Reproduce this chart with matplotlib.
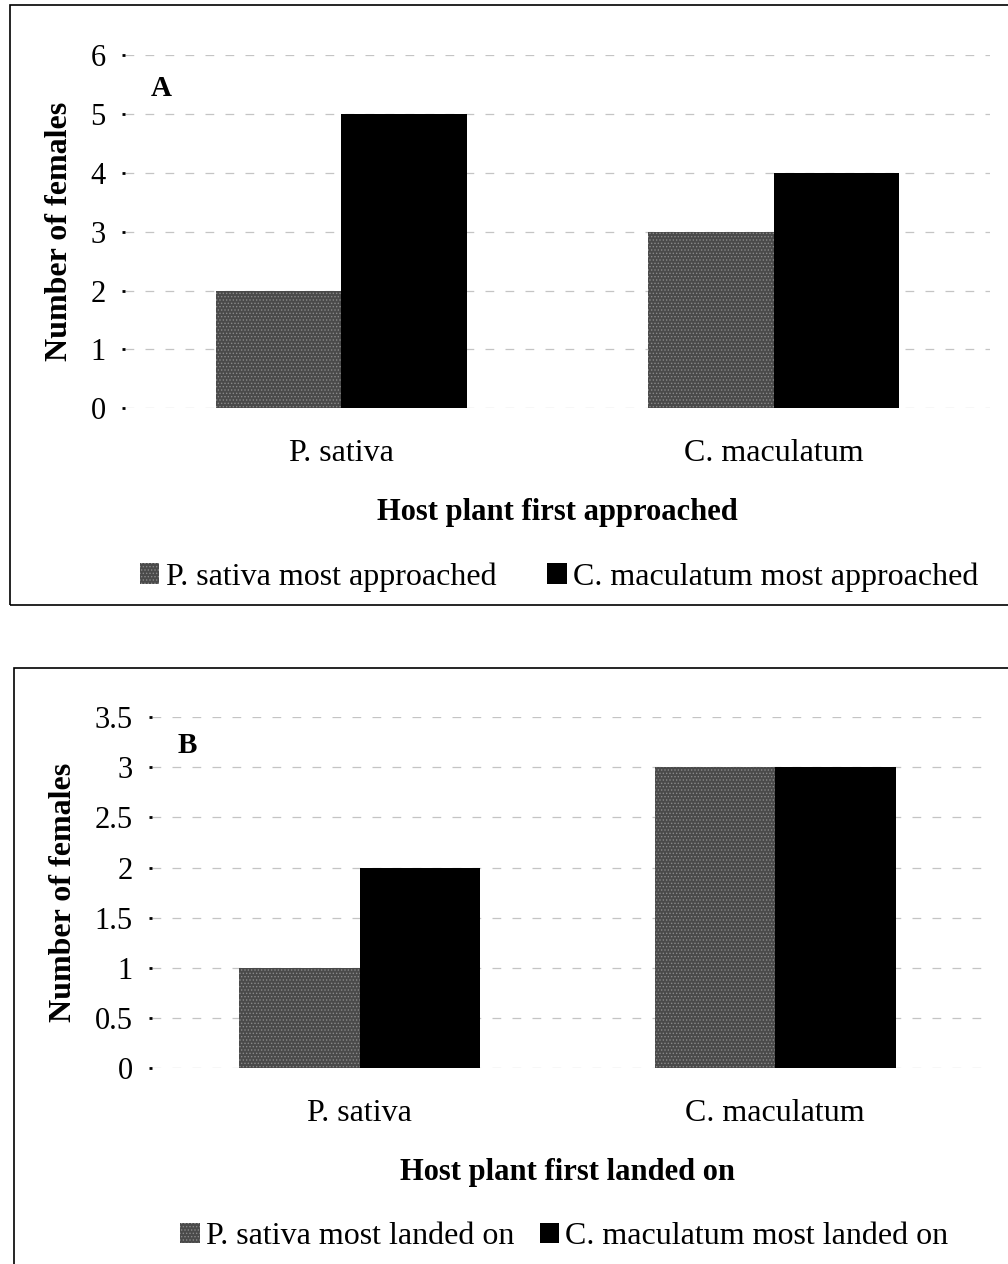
import matplotlib.pyplot as plt
from matplotlib.patches import Rectangle

# data
categories = ["P. sativa", "C. maculatum"]
approached_sativa = [2, 3]
approached_maculatum = [5, 4]
landed_sativa = [1, 3]
landed_maculatum = [2, 3]

plt.rcParams['font.family'] = ['Liberation Serif', 'DejaVu Serif']
plt.rcParams['hatch.color'] = '#9a9a9a'
plt.rcParams['hatch.linewidth'] = 0.6

fig = plt.figure(figsize=(10.08, 12.64), dpi=100)

# outer frames around each panel
fig.patches.append(Rectangle((0.0099, 0.5214), 1.0, 0.4745, transform=fig.transFigure,
                             fill=False, edgecolor='black', linewidth=1.2))
fig.patches.append(Rectangle((0.0139, -0.05), 1.0, 0.5215, transform=fig.transFigure,
                             fill=False, edgecolor='black', linewidth=1.2))

grey = '#4a4a4a'
width = 0.29


def panel(rect, v1, v2, ymax, step, letter, letter_xy, xlabel, leg_labels, leg_y, leg_x, colsp):
    ax = fig.add_axes(rect)
    x = range(len(categories))
    b1 = ax.bar([i - width / 2 for i in x], v1, width, color=grey, hatch='.....',
                edgecolor='#8a8a8a', linewidth=0)
    b2 = ax.bar([i + width / 2 for i in x], v2, width, color='black', linewidth=0)
    ax.set_xlim(-0.5, 1.5)
    ax.set_ylim(0, ymax)
    ticks = [i * step for i in range(int(round(ymax / step)) + 1)]
    ax.set_yticks(ticks)
    ax.set_yticklabels([('%g' % t) for t in ticks])
    ax.set_xticks(list(x))
    ax.set_xticklabels(categories)
    ax.yaxis.grid(True, color='#c4c4c4', linestyle=(0, (7, 9)), linewidth=0.9)
    ax.set_axisbelow(True)
    for s in ax.spines.values():
        s.set_visible(False)
    ax.tick_params(axis='y', length=2, width=2, pad=12, labelsize=22)
    ax.tick_params(axis='x', length=0, pad=22, labelsize=23)
    ax.set_xlabel(xlabel, fontsize=22, fontweight='bold', labelpad=22)
    ax.set_ylabel("Number of females", fontsize=23, fontweight='bold', labelpad=12)
    fig.text(letter_xy[0], letter_xy[1], letter, fontsize=21, fontweight='bold',
             ha='left', va='center')
    fig.legend([b1, b2], leg_labels, loc='center left', bbox_to_anchor=(leg_x, leg_y),
               ncol=2, frameon=False, fontsize=23, handlelength=0.6, handleheight=0.6,
               handletextpad=0.2, columnspacing=colsp, borderpad=0, borderaxespad=0)
    return ax


panel([0.124, 0.677, 0.858, 0.2793], approached_sativa, approached_maculatum, 6, 1,
      "A", (0.150, 0.930), "Host plant first approached",
      ["P. sativa most approached", "C. maculatum most approached"], 1 - 577 / 1264,
      0.139, 1.6)

panel([0.151, 0.155, 0.824, 0.2777], landed_sativa, landed_maculatum, 3.5, 0.5,
      "B", (0.176, 0.410), "Host plant first landed on",
      ["P. sativa most landed on", "C. maculatum most landed on"], 1 - 1237 / 1264,
      0.179, 0.8)

fig.savefig("out.png", dpi=100)
